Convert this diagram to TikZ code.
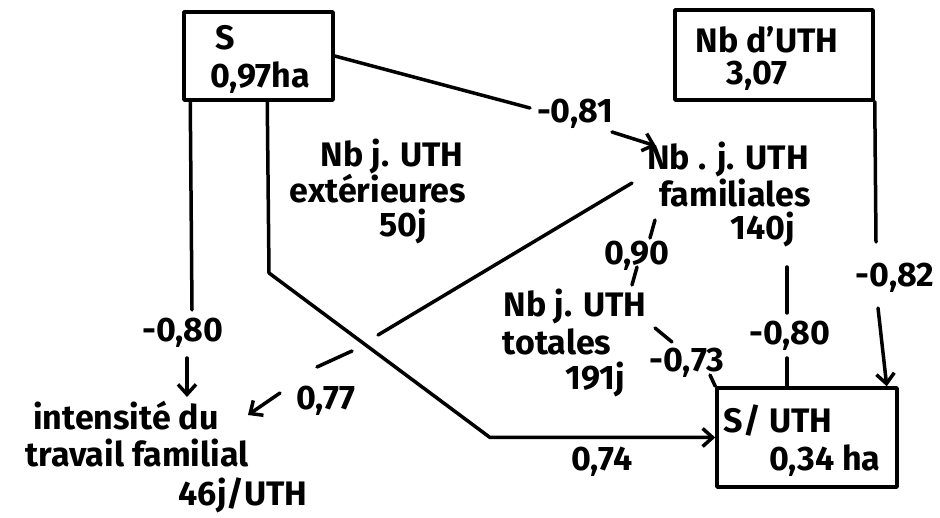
\documentclass[tikz,border=0pt]{standalone}
\usepackage{fontspec}
\setmainfont{Fira Sans}
\usetikzlibrary{arrows.meta}
\begin{document}
\begin{tikzpicture}[x=1pt,y=-1pt, line width=3.5pt, line cap=round, line join=round,
  box/.style={draw, rectangle, inner sep=0pt},
  txt/.style={inner sep=0pt, anchor=base, font=\fontsize{34}{40}\selectfont\bfseries},
  lab/.style={txt},
  arr/.style={-{Straight Barb[length=10pt,width=18pt,line width=3.5pt]}}]
\useasboundingbox (0,0) rectangle (940,518);
% boxes
\node[box, minimum width=149pt, minimum height=88pt] (S) at (258.5,56) {};
\node[txt] (St) at (225,50) {S};
\node[txt] (Sv) at (260,88) {0,97ha};
\node[box, minimum width=198pt, minimum height=90pt] (N) at (774,55) {};
\node[txt] (Nt) at (767,53) {Nb d'UTH};
\node[txt] (Nv) at (757,85) {3,07};
\node[box, minimum width=180pt, minimum height=99pt] (U) at (807,437.5) {};
\node[txt] (Ut) at (778,432) {S/ UTH};
\node[txt] (Uv) at (825,470) {0,34 ha};
% text blocks
\node[txt] (ext1) at (392,167) {Nb j. UTH};
\node[txt] (ext2) at (378,203) {extérieures};
\node[txt] (ext3) at (403,237) {50j};
\node[txt] (fam1) at (728,170) {Nb . j. UTH};
\node[txt] (fam2) at (735,207) {familiales};
\node[txt] (fam3) at (763,240) {140j};
\node[txt] (tot1) at (575,317) {Nb j. UTH};
\node[txt] (tot2) at (557,355) {totales};
\node[txt] (tot3) at (595,390) {191j};
\node[txt] (int1) at (126,430) {intensité du};
\node[txt] (int2) at (137,467) {travail familial};
\node[txt] (int3) at (243,505) {46j/UTH};
% labels
\node[lab] (l81) at (575,123) {-0,81};
\node[lab] (l80a) at (183,342) {-0,80};
\node[lab] (l77) at (326,410) {0,77};
\node[lab] (l90) at (637,265) {0,90};
\node[lab] (l73) at (687,372) {-0,73};
\node[lab] (l80b) at (790,345) {-0,80};
\node[lab] (l82) at (895,287) {-0,82};
\node[lab] (l74) at (602,470) {0,74};
% coordinates
\coordinate (a1) at (530,108);
\coordinate (a2) at (612,132);
\coordinate (a3) at (656,146);
\coordinate (b1) at (192,310);
\coordinate (b2) at (187,358);
\coordinate (b3) at (187,397);
\coordinate (c1) at (269,273);
\coordinate (c2) at (490,437.5);
\coordinate (d0) at (632,183);
\coordinate (d1) at (378,335);
\coordinate (d2) at (352,351);
\coordinate (d3) at (317,367);
\coordinate (d4) at (280,393);
\coordinate (d5) at (248,415);
\coordinate (e0) at (655,220);
\coordinate (e1) at (650,238);
\coordinate (e2) at (637,267);
\coordinate (e3) at (632,285);
\coordinate (f0) at (655,328);
\coordinate (f1) at (672,342);
\coordinate (f2) at (710,375);
\coordinate (g0) at (787,267);
\coordinate (g1) at (787,313);
\coordinate (g2) at (787,358);
\coordinate (h1) at (876,242);
\coordinate (h2) at (878,308);
% connectors
\draw (S.east) -- (a1);
\draw[arr] (a2) -- (a3);
\draw ([xshift=8pt]S.south west) -- (b1);
\draw[arr] (b2) -- (b3);
\draw[arr] ([xshift=85pt]S.south west) -- (c1) -- (c2) -- (U.west);
\draw (d0) -- (d1);
\draw (d2) -- (d3);
\draw[arr] (d4) -- (d5);
\draw (e0) -- (e1);
\draw (e2) -- (e3);
\draw (f0) -- (f1);
\draw (f2) -- (U.north west);
\draw (g0) -- (g1);
\draw (g2) -- ([xshift=-20pt]U.north);
\draw (N.south east) -- (h1);
\draw[arr] (h2) -- ([xshift=-12pt]U.north east);
\end{tikzpicture}
\end{document}
